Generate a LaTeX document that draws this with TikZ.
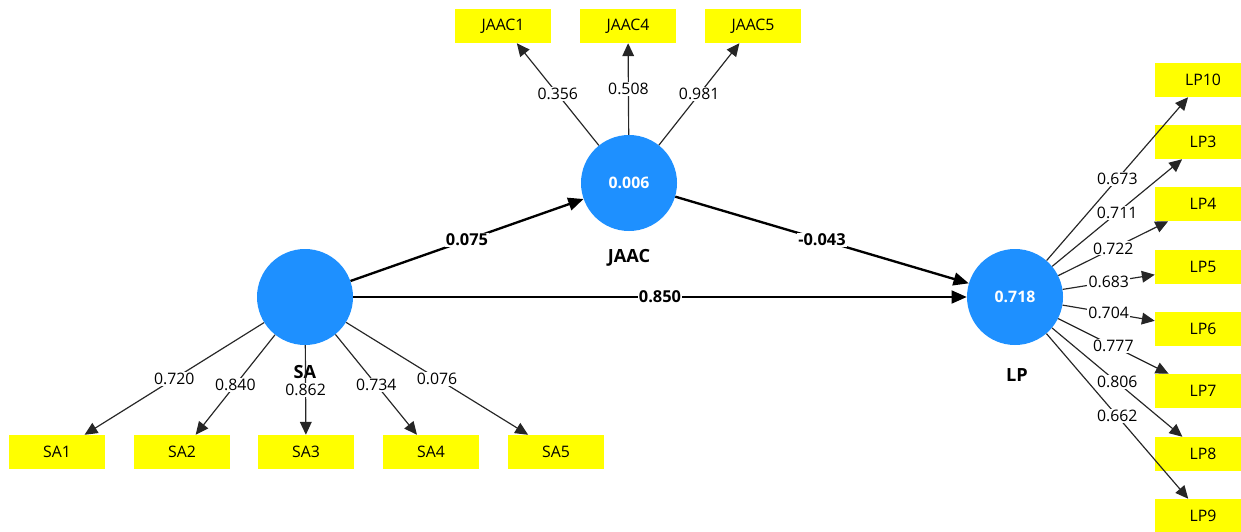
\documentclass[tikz,border=0pt]{standalone}
\usepackage{fontspec}
\setmainfont{Open Sans}
\usetikzlibrary{arrows.meta}
\definecolor{lvblue}{RGB}{30,144,255}
\definecolor{indyellow}{RGB}{255,255,0}
\begin{document}
\begin{tikzpicture}[x=0.03cm,y=-0.03cm,
 lv/.style={circle,fill=lvblue,minimum size=2.88cm,inner sep=0pt,text=white,font=\fontsize{13.5}{15}\selectfont\bfseries},
 ind/.style={rectangle,fill=indyellow,minimum width=2.88cm,minimum height=1.02cm,inner sep=0pt,font=\fontsize{13.5}{15}\selectfont},
 lvname/.style={font=\fontsize{15.5}{17}\selectfont\bfseries},
 load/.style={draw=black!85,line width=1pt,-{Triangle[length=11pt,width=10pt]}},
 pth/.style={draw=black,line width=2pt,-{Triangle[length=13pt,width=11pt]}},
 lab/.style={fill=white,inner sep=1pt,font=\fontsize{13.5}{15}\selectfont},
 plab/.style={fill=white,inner sep=1pt,font=\fontsize{14}{16}\selectfont\bfseries}]
\useasboundingbox (0,0) rectangle (1241,531);
% latent variables
\node[lv] (JAAC) at (629,183) {0.006};
\node[lv] (SA) at (305,297) {};
\node[lv] (LP) at (1015,297) {0.718};
\node[lvname] (JAACn) at (629,258) {JAAC};
\node[lvname] (SAn) at (305,372) {SA};
\node[lvname] (LPn) at (1017,375) {LP};
% indicators
\node[ind] (JAAC1) at (503,26) {JAAC1};
\node[ind] (JAAC4) at (628,26) {JAAC4};
\node[ind] (JAAC5) at (753,26) {JAAC5};
\node[ind] (SA1) at (57,452) {SA1};
\node[ind] (SA2) at (182,452) {SA2};
\node[ind] (SA3) at (306,452) {SA3};
\node[ind] (SA4) at (431,452) {SA4};
\node[ind] (SA5) at (556,452) {SA5};
\node[ind] (LP10) at (1203,80) {LP10};
\node[ind] (LP3) at (1203,142) {LP3};
\node[ind] (LP4) at (1203,204) {LP4};
\node[ind] (LP5) at (1203,267) {LP5};
\node[ind] (LP6) at (1203,329) {LP6};
\node[ind] (LP7) at (1203,391) {LP7};
\node[ind] (LP8) at (1203,454) {LP8};
\node[ind] (LP9) at (1203,516) {LP9};
% loadings
\draw[load] (JAAC) -- node[lab]{0.356} (JAAC1);
\draw[load] (JAAC) -- node[lab]{0.508} (JAAC4);
\draw[load] (JAAC) -- node[lab]{0.981} (JAAC5);
\draw[load] (SA) -- node[lab]{0.720} (SA1);
\draw[load] (SA) -- node[lab]{0.840} (SA2);
\draw[load] (SA) -- node[lab]{0.862} (SA3);
\draw[load] (SA) -- node[lab]{0.734} (SA4);
\draw[load] (SA) -- node[lab]{0.076} (SA5);
\draw[load] (LP) -- node[lab]{0.673} (LP10);
\draw[load] (LP) -- node[lab]{0.711} (LP3);
\draw[load] (LP) -- node[lab]{0.722} (LP4);
\draw[load] (LP) -- node[lab]{0.683} (LP5);
\draw[load] (LP) -- node[lab]{0.704} (LP6);
\draw[load] (LP) -- node[lab]{0.777} (LP7);
\draw[load] (LP) -- node[lab]{0.806} (LP8);
\draw[load] (LP) -- node[lab]{0.662} (LP9);
% paths
\draw[pth] (SA) -- node[plab]{0.075} (JAAC);
\draw[pth] (JAAC) -- node[plab]{-0.043} (LP);
\draw[pth] (SA) -- node[plab]{0.850} (LP);
\end{tikzpicture}
\end{document}
